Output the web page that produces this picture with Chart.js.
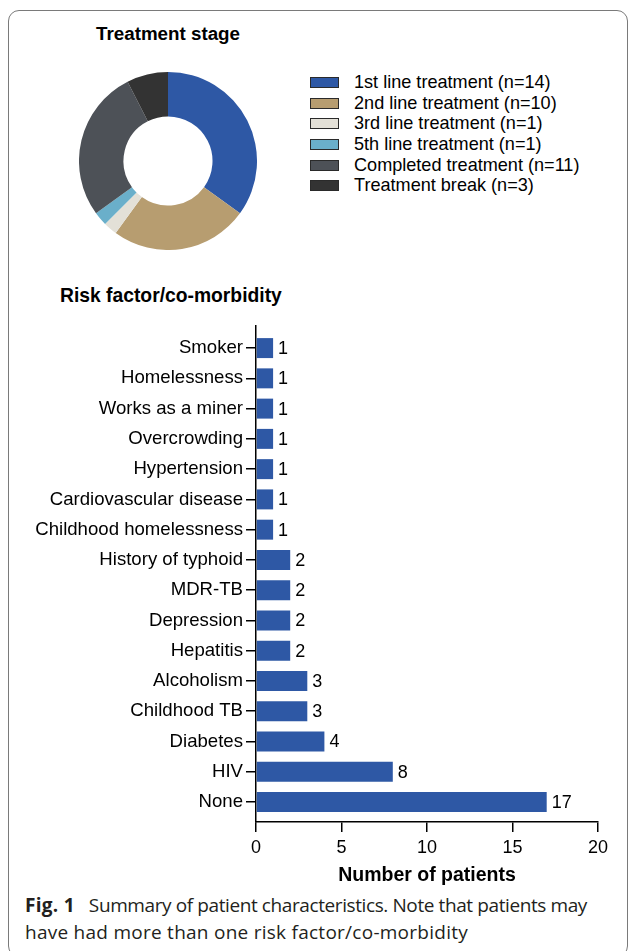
<!DOCTYPE html>
<html>
<head>
<meta charset="utf-8">
<title>Patient characteristics</title>
<script src="https://cdn.jsdelivr.net/npm/chart.js@4.4.1/dist/chart.umd.min.js"></script>
<style>
  html, body { margin: 0; padding: 0; background: #fff; }
  body { width: 629px; height: 951px; position: relative; overflow: hidden; font-family: "Liberation Sans", Arial, sans-serif; color: #000; }
  .frame { position: absolute; left: 8px; top: 10px; width: 618px; height: 945px; border: 1.5px solid #7a7a7a; border-radius: 11px; }
  .title { position: absolute; font-weight: bold; font-size: 18.8px; white-space: nowrap; }
  #t1 { left: 96px; top: 23px; }
  #t2 { left: 60px; top: 285px; font-size: 19.3px; }
  #donutBox { position: absolute; left: 79px; top: 72px; width: 178px; height: 178px; }
  #legend { position: absolute; left: 310px; top: 72.5px; }
  #legend .row { height: 20.6px; display: flex; align-items: center; font-size: 18.1px; white-space: nowrap; }
  #legend .box { width: 27px; height: 9px; border: 1px solid #2a2a2a; margin-right: 15px; }
  #barBox { position: absolute; left: 0; top: 310px; width: 629px; height: 580px; }
  .caption { position: absolute; left: 25px; top: 892px; width: 600px; font-family: "Open Sans", "Noto Sans", sans-serif; font-size: 19px; line-height: 27px; color: #231f20; white-space: nowrap; }
  .caption b { font-weight: bold; letter-spacing: 0.3px; margin-right: 4px; }
  .caption .l1 { letter-spacing: -0.4px; }
  .caption .l2 { letter-spacing: 0.26px; }
</style>
</head>
<body>
<div class="frame"></div>
<div class="title" id="t1">Treatment stage</div>
<div id="donutBox"><canvas id="donut" width="178" height="178"></canvas></div>
<div id="legend"></div>
<div class="title" id="t2">Risk factor/co-morbidity</div>
<div id="barBox"><canvas id="bars" width="629" height="580"></canvas></div>
<div class="caption"><b>Fig. 1</b>&nbsp; <span class="l1">Summary of patient characteristics. Note that patients may</span><br><span class="l2">have had more than one risk factor/co-morbidity</span></div>

<script>
// treatment stage (doughnut)
const stageLabels = ['1st line treatment', '2nd line treatment', '3rd line treatment', '5th line treatment', 'Completed treatment', 'Treatment break'];
const stageCounts = [14, 10, 1, 1, 11, 3];
const stageColors = ['#2e58a5', '#b79d70', '#e3e0d7', '#6aafca', '#4d5157', '#333333'];

// risk factor / co-morbidity (horizontal bars), top to bottom
const riskLabels = ['Smoker', 'Homelessness', 'Works as a miner', 'Overcrowding', 'Hypertension',
  'Cardiovascular disease', 'Childhood homelessness', 'History of typhoid', 'MDR-TB', 'Depression',
  'Hepatitis', 'Alcoholism', 'Childhood TB', 'Diabetes', 'HIV', 'None'];
const riskCounts = [1, 1, 1, 1, 1, 1, 1, 2, 2, 2, 2, 3, 3, 4, 8, 17];
const xTicksMax = 20;
const xTickStep = 5;

Chart.defaults.font.family = '"Liberation Sans", Arial, sans-serif';
Chart.defaults.color = '#000';

// legend as plain html
const legendEl = document.getElementById('legend');
legendEl.innerHTML = stageLabels.map((l, i) =>
  `<div class="row"><div class="box" style="background:${stageColors[i]}"></div>${l} (n=${stageCounts[i]})</div>`
).join('');

new Chart(document.getElementById('donut'), {
  type: 'doughnut',
  data: {
    labels: stageLabels,
    datasets: [{ data: stageCounts, backgroundColor: stageColors, borderWidth: 0 }]
  },
  options: {
    responsive: false,
    animation: false,
    cutout: '50%',
    layout: { padding: 0 },
    events: [],
    plugins: { legend: { display: false }, tooltip: { enabled: false } }
  }
});

// numbers at the end of each bar
const barValueLabels = {
  id: 'barValueLabels',
  afterDatasetsDraw(chart) {
    const ctx = chart.ctx;
    const meta = chart.getDatasetMeta(0);
    ctx.save();
    ctx.font = '18px "Liberation Sans", Arial, sans-serif';
    ctx.fillStyle = '#000';
    ctx.textBaseline = 'middle';
    meta.data.forEach((bar, i) => ctx.fillText(String(riskCounts[i]), bar.x + 5, bar.y + 1));
    ctx.restore();
  }
};

new Chart(document.getElementById('bars'), {
  type: 'bar',
  data: {
    datasets: [{
      data: riskCounts.map((v, i) => ({ x: v, y: i })),
      backgroundColor: '#2e58a5',
      borderWidth: 0,
      barPercentage: 0.66,
      categoryPercentage: 1
    }]
  },
  plugins: [barValueLabels],
  options: {
    responsive: false,
    animation: false,
    indexAxis: 'y',
    events: [],
    layout: { padding: { top: 16, right: 31, bottom: 0, left: 0 } },
    plugins: { legend: { display: false }, tooltip: { enabled: false } },
    scales: {
      y: {
        type: 'linear',
        reverse: true,
        offset: false,
        min: -0.73,
        max: 15.66,
        afterFit: s => { s.width = 256; },
        // keep one tick per category only
        afterBuildTicks: s => {
          s.ticks = riskLabels.map((_, i) => ({ value: i }));
        },
        ticks: {
          stepSize: 1,
          includeBounds: false,
          autoSkip: false,
          padding: 3,
          font: { size: 18.6 },
          color: '#000',
          callback: v => riskLabels[v] ?? ''
        },
        grid: { offset: false, drawOnChartArea: false, drawTicks: true, tickLength: 10, color: '#000', lineWidth: 1.5 },
        border: { display: true, color: '#000', width: 1.5 }
      },
      x: {
        type: 'linear',
        min: 0,
        max: xTicksMax,
        afterFit: s => { s.height = 68; },
        ticks: { stepSize: xTickStep, padding: 5, font: { size: 18 }, color: '#000', maxRotation: 0 },
        grid: { drawOnChartArea: false, drawTicks: true, tickLength: 10, color: '#000', lineWidth: 1.5 },
        border: { display: true, color: '#000', width: 1.5 },
        title: { display: true, text: 'Number of patients', font: { size: 19.5, weight: 'bold' }, color: '#000', padding: { top: 0, bottom: 3 } }
      }
    }
  }
});
</script>
</body>
</html>
